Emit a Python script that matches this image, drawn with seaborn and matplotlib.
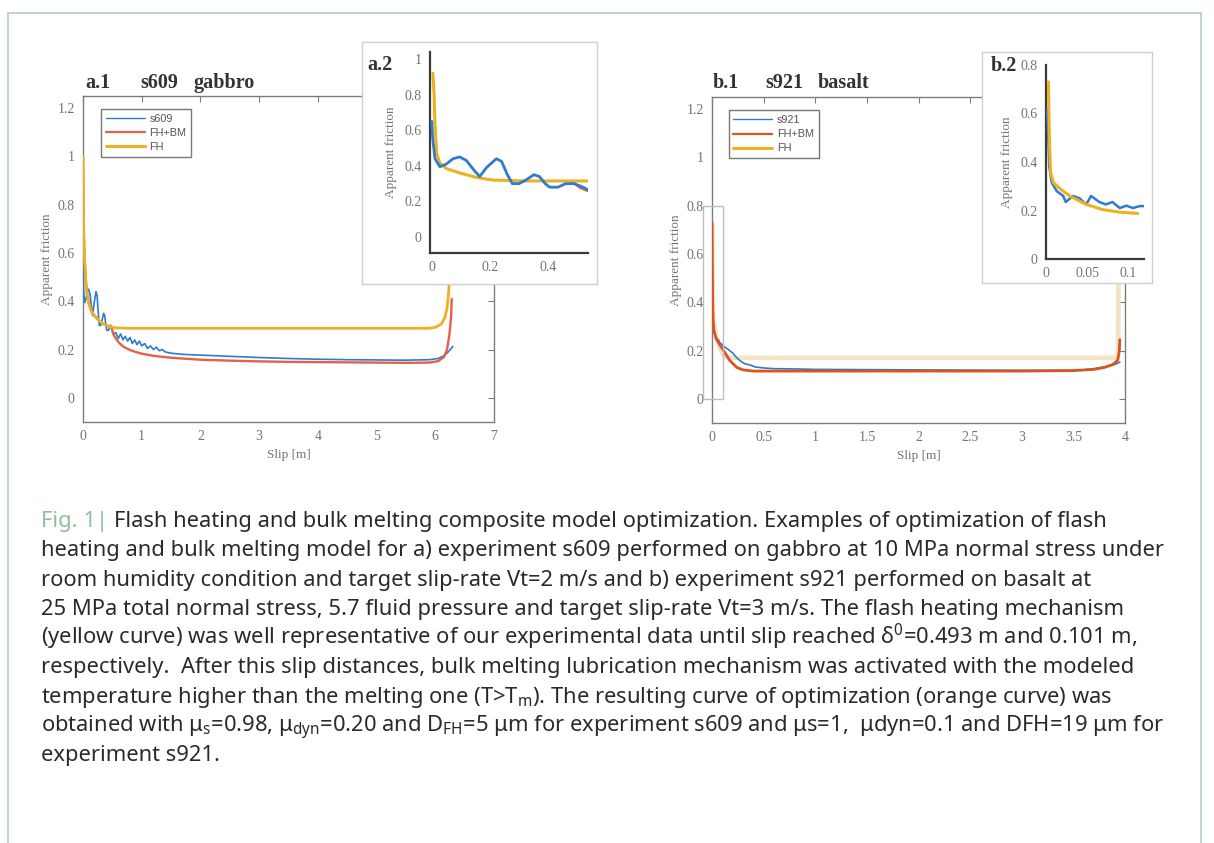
import matplotlib
matplotlib.use("Agg")
import matplotlib.pyplot as plt
import seaborn as sns
from matplotlib.lines import Line2D
from matplotlib.patches import Rectangle
from matplotlib.ticker import FuncFormatter, MultipleLocator

# ---------------------------------------------------------------- data
# a.1  s609 gabbro (full slip record)
a1_s609_x = [0.0, 0.005, 0.011, 0.028, 0.05, 0.073, 0.096, 0.119, 0.148, 0.165, 0.188,
             0.222, 0.24, 0.26, 0.277, 0.3, 0.323, 0.351, 0.37, 0.39, 0.405, 0.434, 0.46,
             0.475, 0.49, 0.52, 0.56, 0.60, 0.64, 0.68, 0.72, 0.76, 0.80, 0.84, 0.88,
             0.92, 0.96, 1.00, 1.05, 1.10, 1.15, 1.20, 1.25, 1.30, 1.35, 1.40, 1.5, 1.7,
             2.0, 2.5, 3.0, 3.5, 4.0, 4.5, 5.0, 5.5, 5.9, 6.05, 6.15, 6.22, 6.3]
a1_s609_y = [0.66, 0.55, 0.44, 0.395, 0.41, 0.44, 0.45, 0.43, 0.37, 0.34, 0.39,
             0.44, 0.425, 0.35, 0.30, 0.30, 0.32, 0.35, 0.34, 0.30, 0.28, 0.28, 0.30,
             0.30, 0.28, 0.265, 0.27, 0.245, 0.265, 0.24, 0.255, 0.235, 0.25, 0.225, 0.24,
             0.22, 0.235, 0.215, 0.225, 0.205, 0.215, 0.20, 0.21, 0.195, 0.20, 0.19, 0.185, 0.18,
             0.177, 0.172, 0.167, 0.163, 0.16, 0.158, 0.157, 0.156, 0.158, 0.163, 0.175, 0.19, 0.213]
a1_fhbm_x = [0.0, 0.005, 0.01, 0.02, 0.03, 0.05, 0.07, 0.10, 0.14, 0.18, 0.25, 0.35, 0.45,
             0.49, 0.52, 0.56, 0.60, 0.65, 0.70, 0.80, 0.90, 1.0, 1.2, 1.5, 2.0, 2.5, 3.0,
             3.5, 4.0, 4.5, 5.0, 5.5, 5.9, 6.05, 6.15, 6.2, 6.24, 6.27, 6.28]
a1_fhbm_y = [1.0, 0.85, 0.72, 0.62, 0.56, 0.48, 0.43, 0.39, 0.36, 0.345, 0.325, 0.305, 0.295,
             0.29, 0.262, 0.245, 0.232, 0.22, 0.21, 0.198, 0.19, 0.183, 0.174, 0.166, 0.158,
             0.154, 0.151, 0.149, 0.148, 0.147, 0.146, 0.145, 0.146, 0.152, 0.17, 0.2, 0.26, 0.34, 0.41]
a1_fh_x = [0.0, 0.005, 0.01, 0.02, 0.03, 0.05, 0.07, 0.10, 0.14, 0.18, 0.25, 0.35, 0.45,
           0.55, 0.8, 1.5, 3.0, 5.0, 5.9, 6.0, 6.1, 6.16, 6.2, 6.23, 6.25, 6.26]
a1_fh_y = [1.0, 0.85, 0.72, 0.62, 0.56, 0.48, 0.43, 0.39, 0.36, 0.345, 0.325, 0.305, 0.295,
           0.29, 0.288, 0.288, 0.288, 0.288, 0.288, 0.292, 0.305, 0.33, 0.37, 0.44, 0.6, 0.9]

# a.2  close-up of the first half metre
a2_s609_x = [0.0, 0.003, 0.011, 0.028, 0.05, 0.073, 0.096, 0.119, 0.148, 0.165, 0.188,
             0.222, 0.24, 0.26, 0.277, 0.3, 0.323, 0.351, 0.37, 0.39, 0.405, 0.434,
             0.46, 0.475, 0.49, 0.52, 0.537]
a2_s609_y = [0.65, 0.56, 0.44, 0.395, 0.41, 0.44, 0.45, 0.43, 0.37, 0.34, 0.39,
             0.44, 0.425, 0.35, 0.30, 0.30, 0.32, 0.35, 0.34, 0.30, 0.28, 0.28,
             0.30, 0.30, 0.30, 0.28, 0.265]
a2_fhbm_x = [0.49, 0.51, 0.53, 0.537]
a2_fhbm_y = [0.30, 0.275, 0.262, 0.258]
a2_fh_x = [0.004, 0.008, 0.011, 0.017, 0.028, 0.05, 0.096, 0.153, 0.21, 0.324, 0.537]
a2_fh_y = [0.92, 0.8, 0.64, 0.47, 0.415, 0.385, 0.36, 0.335, 0.32, 0.315, 0.315]

# b.1  s921 basalt (full slip record)
b1_s921_x = [0.0, 0.005, 0.01, 0.02, 0.04, 0.06, 0.08, 0.1, 0.12, 0.14, 0.17, 0.2, 0.24,
             0.28, 0.32, 0.37, 0.42, 0.5, 0.6, 0.8, 1.0, 1.5, 2.0, 2.5, 3.0, 3.5, 3.6,
             3.7, 3.8, 3.9, 3.95]
b1_s921_y = [0.62, 0.42, 0.32, 0.28, 0.25, 0.245, 0.23, 0.225, 0.215, 0.21, 0.2, 0.19, 0.17,
             0.155, 0.145, 0.14, 0.132, 0.128, 0.125, 0.124, 0.122, 0.121, 0.12, 0.119, 0.118,
             0.118, 0.12, 0.125, 0.132, 0.142, 0.152]
b1_fhbm_x = [0.0, 0.003, 0.006, 0.01, 0.02, 0.04, 0.06, 0.12, 0.17, 0.24, 0.3, 0.4, 0.6,
             1.0, 2.0, 3.0, 3.5, 3.7, 3.8, 3.88, 3.93, 3.945, 3.95]
b1_fhbm_y = [0.73, 0.55, 0.42, 0.33, 0.28, 0.25, 0.235, 0.195, 0.16, 0.13, 0.12, 0.115, 0.115,
             0.115, 0.115, 0.115, 0.117, 0.122, 0.13, 0.142, 0.16, 0.2, 0.245]
b1_fh_x = [0.0, 0.005, 0.01, 0.02, 0.04, 0.07, 0.1, 0.12, 0.2, 1.0, 2.0, 3.0, 3.9, 3.93,
           3.935, 3.94]
b1_fh_y = [0.73, 0.5, 0.35, 0.3, 0.26, 0.215, 0.19, 0.175, 0.17, 0.17, 0.17, 0.17, 0.17,
           0.175, 0.3, 0.9]

# b.2  close-up of the first 0.12 m
b2_s921_x = [0.0016, 0.004, 0.007, 0.013, 0.021, 0.024, 0.033, 0.041, 0.049, 0.055, 0.065,
             0.073, 0.081, 0.09, 0.098, 0.106, 0.114, 0.12]
b2_s921_y = [0.62, 0.38, 0.315, 0.28, 0.26, 0.235, 0.26, 0.25, 0.225, 0.26, 0.235,
             0.225, 0.235, 0.21, 0.22, 0.21, 0.218, 0.218]
b2_fh_x = [0.0029, 0.004, 0.0055, 0.009, 0.017, 0.029, 0.049, 0.069, 0.09, 0.112]
b2_fh_y = [0.73, 0.52, 0.36, 0.315, 0.29, 0.26, 0.225, 0.204, 0.193, 0.188]

a1_yticks = [0, 0.2, 0.4, 0.6, 0.8, 1.0, 1.2]
a1_xticks = [0, 1, 2, 3, 4, 5, 6, 7]
b1_xticks = [0, 0.5, 1, 1.5, 2, 2.5, 3, 3.5, 4]
a2_yticks = [0, 0.2, 0.4, 0.6, 0.8, 1.0]
a2_xticks = [0, 0.2, 0.4]
b2_yticks = [0, 0.2, 0.4, 0.6, 0.8]
b2_xticks = [0, 0.05, 0.1]

caption_lead = "Fig. 1| "
caption_lines = [
    "Flash heating and bulk melting composite model optimization. Examples of optimization of flash",
    "heating and bulk melting model for a) experiment s609 performed on gabbro at 10 MPa normal stress under",
    "room humidity condition and target slip-rate Vt=2 m/s and b) experiment s921 performed on basalt at",
    "25 MPa total normal stress, 5.7 fluid pressure and target slip-rate Vt=3 m/s. The flash heating mechanism",
    "(yellow curve) was well representative of our experimental data until slip reached δ$^\\mathrm{0}$=0.493 m and 0.101 m,",
    "respectively.  After this slip distances, bulk melting lubrication mechanism was activated with the modeled",
    "temperature higher than the melting one (T>T$_\\mathrm{m}$). The resulting curve of optimization (orange curve) was",
    "obtained with μ$_\\mathrm{s}$=0.98, μ$_\\mathrm{dyn}$=0.20 and D$_\\mathrm{FH}$=5 μm for experiment s609 and μs=1,  μdyn=0.1 and DFH=19 μm for",
    "experiment s921.",
]

# ---------------------------------------------------------------- style
W, H = 1214, 843
BLUE = "#2f7bcf"
RED = "#e5604a"
ORANGE = "#d9541e"
YELLOW = "#edb120"
PALE = "#f4e4c3"
TICK_TXT = "#747474"
SPINE = "#7c7c7c"
TITLE = "#333333"

sns.set_theme(style="white")
plt.rcParams["font.family"] = ["Liberation Serif", "DejaVu Serif"]
plt.rcParams["mathtext.fontset"] = "custom"
plt.rcParams["mathtext.rm"] = "Noto Sans"
plt.rcParams["mathtext.it"] = "Noto Sans:italic"

fig = plt.figure(figsize=(W / 100, H / 100), dpi=100)
fig.patch.set_facecolor("white")


def px_axes(left, top, right, bottom, **kw):
    return fig.add_axes([left / W, 1 - bottom / H, (right - left) / W, (bottom - top) / H], **kw)


def px_text(x, y, s, **kw):
    return fig.text(x / W, 1 - y / H, s, va="baseline", **kw)


fmt = FuncFormatter(lambda v, p: f"{v:g}")


def draw(ax, xs, ys, color, lw, z):
    sns.lineplot(x=xs, y=ys, ax=ax, color=color, lw=lw, zorder=z, sort=False,
                 estimator=None, legend=False)


def style_main(ax, xticks, xlim):
    ax.set_xlim(*xlim)
    ax.set_ylim(-0.1, 1.25)
    ax.set_xticks(xticks)
    ax.set_yticks(a1_yticks)
    ax.xaxis.set_major_formatter(fmt)
    ax.yaxis.set_major_formatter(fmt)
    ax.tick_params(direction="in", length=4, width=0.8, color=SPINE, labelcolor=TICK_TXT,
                   labelsize=10, top=True, right=True, pad=6)
    for s in ax.spines.values():
        s.set_color(SPINE)
        s.set_linewidth(1.0)
    ax.set_xlabel("Slip [m]", fontsize=9.5, color=TICK_TXT, labelpad=4)
    ax.set_ylabel("Apparent friction", fontsize=9.5, color=TICK_TXT, labelpad=3)
    ax.set_facecolor("white")


def main_legend(ax, name, fhbm_color, anchor):
    handles = [Line2D([], [], color=BLUE, lw=1.0),
               Line2D([], [], color=fhbm_color, lw=1.6),
               Line2D([], [], color=YELLOW, lw=2.2)]
    leg = ax.legend(handles, [name, "FH+BM", "FH"], loc="upper left", bbox_to_anchor=anchor,
                    borderaxespad=0, frameon=True, fancybox=False, handlelength=3.6,
                    handletextpad=0.4, labelspacing=0.38, borderpad=0.45,
                    prop={"family": "Liberation Sans", "size": 7.8})
    leg.get_frame().set_edgecolor("#555555")
    leg.get_frame().set_linewidth(1.0)
    for t in leg.get_texts():
        t.set_color("#555555")


def style_inset(ax, xlim, ylim, xticks, yticks, xminor=None):
    ax.set_xlim(*xlim)
    ax.set_ylim(*ylim)
    ax.set_xticks(xticks)
    ax.set_yticks(yticks)
    if xminor:
        ax.xaxis.set_minor_locator(MultipleLocator(xminor))
    ax.xaxis.set_major_formatter(fmt)
    ax.yaxis.set_major_formatter(fmt)
    ax.tick_params(which="both", direction="in", length=4, width=0.9, color="#444444",
                   labelcolor=TICK_TXT, labelsize=10, pad=6)
    ax.tick_params(which="minor", length=4)
    for side in ("top", "right"):
        ax.spines[side].set_visible(False)
    for side in ("left", "bottom"):
        ax.spines[side].set_color("#3a3a3a")
        ax.spines[side].set_linewidth(1.6)
    ax.set_ylabel("Apparent friction", fontsize=9.5, color=TICK_TXT, labelpad=5)
    ax.patch.set_alpha(0)


def frame_box(left, top, right, bottom, z):
    fb = px_axes(left, top, right, bottom, zorder=z)
    fb.set_xticks([])
    fb.set_yticks([])
    fb.set_facecolor("white")
    for s in fb.spines.values():
        s.set_color("#cfcfcf")
        s.set_linewidth(1.0)
    return fb


title_kw = dict(fontsize=14.5, fontweight="bold", color=TITLE)

# ---------------------------------------------------------------- a.1
ax_a1 = px_axes(83, 96, 494, 422, zorder=1)
draw(ax_a1, a1_s609_x, a1_s609_y, BLUE, 1.2, 3)
draw(ax_a1, a1_fhbm_x, a1_fhbm_y, RED, 1.7, 4)
draw(ax_a1, a1_fh_x, a1_fh_y, YELLOW, 2.0, 5)
style_main(ax_a1, a1_xticks, (0, 7))
main_legend(ax_a1, "s609", RED, (0.044, 0.96))
px_text(85, 88, "a.1", **title_kw)
px_text(140, 88, "s609", **title_kw)
px_text(193, 88, "gabbro", **title_kw)

# a.2 inset
frame_box(362, 42, 597, 284, 5)
ax_a2 = px_axes(430, 52, 588, 253, zorder=6)
draw(ax_a2, a2_fhbm_x, a2_fhbm_y, RED, 1.5, 3)
draw(ax_a2, a2_fh_x, a2_fh_y, YELLOW, 2.2, 4)
draw(ax_a2, a2_s609_x, a2_s609_y, BLUE, 2.0, 5)
style_inset(ax_a2, (-0.006, 0.537), (-0.09, 1.04), a2_xticks, a2_yticks, xminor=0.1)
px_text(367, 70, "a.2", zorder=7, **title_kw)

# ---------------------------------------------------------------- b.1
ax_b1 = px_axes(712, 97, 1125, 423, zorder=1)
draw(ax_b1, b1_fh_x, b1_fh_y, PALE, 3.4, 2)
draw(ax_b1, b1_s921_x, b1_s921_y, BLUE, 1.2, 3)
draw(ax_b1, b1_fhbm_x, b1_fhbm_y, ORANGE, 2.0, 4)
style_main(ax_b1, b1_xticks, (0, 4))
main_legend(ax_b1, "s921", ORANGE, (0.04, 0.959))
ax_b1.add_patch(Rectangle((-0.087, 0.0), 0.197, 0.8, fill=False, edgecolor="#bdbdbd",
                          lw=1.0, clip_on=False, zorder=6))
px_text(713, 88, "b.1", **title_kw)
px_text(765, 88, "s921", **title_kw)
px_text(818, 88, "basalt", **title_kw)

# b.2 inset
frame_box(982, 52, 1152, 283, 5)
ax_b2 = px_axes(1046, 65, 1144, 259, zorder=6)
draw(ax_b2, b2_s921_x, b2_s921_y, BLUE, 1.8, 4)
draw(ax_b2, b2_fh_x, b2_fh_y, YELLOW, 2.2, 5)
style_inset(ax_b2, (0, 0.1195), (0, 0.8), b2_xticks, b2_yticks)
px_text(991, 71, "b.2", zorder=7, **title_kw)

# ---------------------------------------------------------------- page frame
frame_col = "#b7d4be"
for xs, ys in (((8, 8), (843, 13)), ((8, 1201), (13, 13)), ((1201, 1201), (13, 843))):
    fig.add_artist(Line2D([x / W for x in xs], [1 - y / H for y in ys], color=frame_col,
                          lw=1.3, transform=fig.transFigure))

# ---------------------------------------------------------------- caption
cap_kw = dict(fontfamily=["Noto Sans", "DejaVu Sans"], fontsize=15.8)
x0 = 41
base0 = 527
step = 29.3
lead = px_text(x0, base0, caption_lead, color="#8fbf9d", **cap_kw)
fig.canvas.draw()
lead_w = lead.get_window_extent(renderer=fig.canvas.get_renderer()).width
for i, line in enumerate(caption_lines):
    xi = x0 + lead_w if i == 0 else x0
    px_text(xi, base0 + i * step, line, color="#2a2a2a", **cap_kw)

fig.savefig("out.png", dpi=100, facecolor="white")
